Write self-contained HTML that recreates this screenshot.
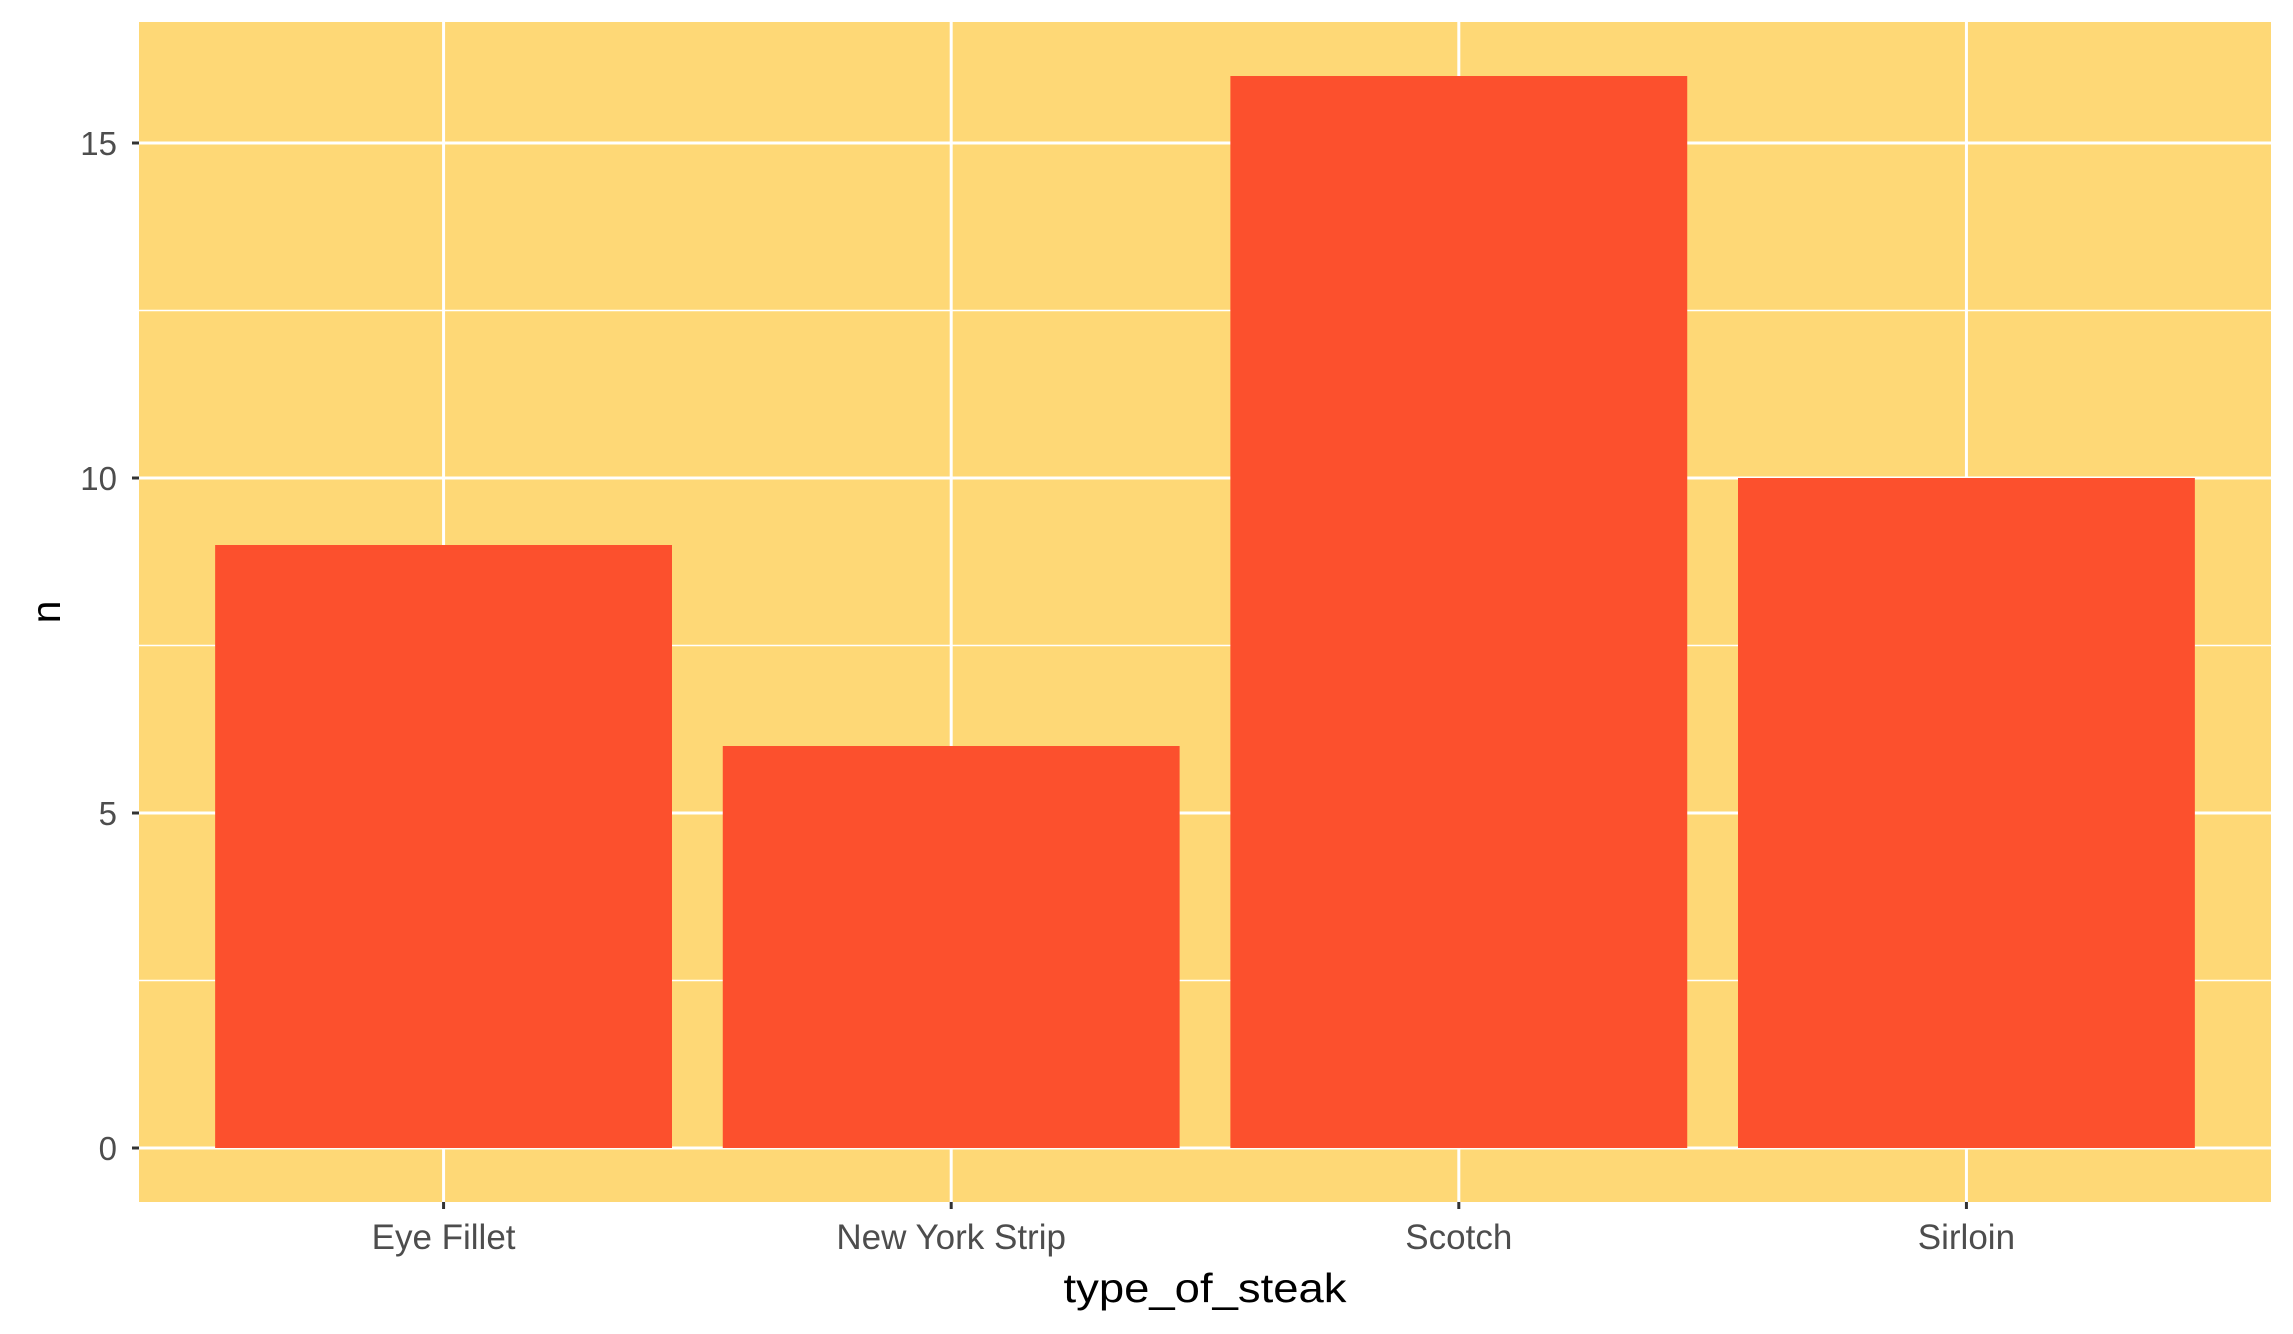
<!DOCTYPE html>
<html><head><meta charset="utf-8"><style>
html,body{margin:0;padding:0;background:#fff;}
svg{display:block;font-family:"Liberation Sans",Arial,sans-serif;}
</style></head><body>
<svg id="chart" width="2293" height="1334" viewBox="0 0 2293 1334"></svg>
<script>
const categories = ["Eye Fillet","New York Strip","Scotch","Sirloin"];
const counts = [9, 6, 16, 10];
const yTicks = [0, 5, 10, 15];
const yMinor = [2.5, 7.5, 12.5];

const NS = "http://www.w3.org/2000/svg";
const svg = document.getElementById("chart");
const P = {l:139, r:2271, t:22, b:1202};
const y0px = 1148, unit = (1148 - 143) / 15;
const yScale = v => y0px - v * unit;
const step = (P.r - P.l) / (categories.length + 0.2);
const xScale = i => P.l + step * (i + 0.6);
const barW = step * 0.9;

function mk(tag, attrs, parent) {
  const e = document.createElementNS(NS, tag);
  for (const k in attrs) e.setAttribute(k, attrs[k]);
  (parent || svg).appendChild(e);
  return e;
}

const panel = mk("rect", {x:P.l, y:P.t, width:P.r-P.l, height:P.b-P.t, fill:"#FED876"});



yMinor.forEach(v => {
  const l = mk("line", {x1:P.l, x2:P.r, y1:yScale(v), y2:yScale(v), stroke:"#fff", "stroke-width":1.5});
  
  
});
yTicks.forEach(v => {
  const l = mk("line", {x1:P.l, x2:P.r, y1:yScale(v), y2:yScale(v), stroke:"#fff", "stroke-width":3});
  
  
});
categories.forEach((c, i) => {
  const l = mk("line", {x1:xScale(i), x2:xScale(i), y1:P.t, y2:P.b, stroke:"#fff", "stroke-width":3});
  
  
});

counts.forEach((v, i) => {
  const r = mk("rect", {x:xScale(i)-barW/2, y:yScale(v), width:barW, height:yScale(0)-yScale(v), fill:"#FC502D"});
  
  
});

yTicks.forEach(v => {
  const t = mk("line", {x1:P.l-7, x2:P.l, y1:yScale(v), y2:yScale(v), stroke:"#333", "stroke-width":3});
  
  
  const lb = mk("text", {x:P.l-22, y:yScale(v)+12, "text-anchor":"end", "font-size":33, fill:"#4d4d4d"});
  lb.textContent = v;
  
  
});
categories.forEach((c, i) => {
  const t = mk("line", {x1:xScale(i), x2:xScale(i), y1:P.b, y2:P.b+7, stroke:"#333", "stroke-width":3});
  
  
  const lb = mk("text", {x:xScale(i), y:1249, "text-anchor":"middle", "font-size":35, fill:"#4d4d4d"});
  lb.textContent = c;
  
  
});

const xt = mk("text", {x:(P.l+P.r)/2, y:1302, "text-anchor":"middle", "font-size":41, fill:"#000", textLength:283, lengthAdjust:"spacingAndGlyphs"});
xt.textContent = "type_of_steak";


const yt = mk("text", {x:0, y:0, "text-anchor":"middle", "font-size":41, fill:"#000", transform:"translate(60,"+((P.t+P.b)/2)+") rotate(-90)"});
yt.textContent = "n";


</script>
</body></html>
